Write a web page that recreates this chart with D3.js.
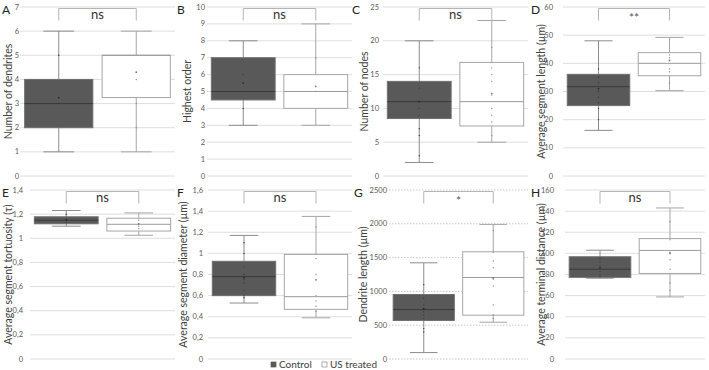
<!DOCTYPE html>
<html>
<head>
<meta charset="utf-8">
<script src="https://cdn.jsdelivr.net/npm/d3@7"></script>
<style>
  body { margin:0; background:#fff; }
  svg text { font-family: Lato, "Open Sans", sans-serif; }
</style>
</head>
<body>
<div id="chart"></div>
<script>
const panelIds = ["A","B","C","D","E","F","G","H"];
const yTitles  = ["Number of dendrites","Highest order","Number of nodes","Average segment length (µm)",
                  "Average segment tortuosity (τ)","Average segment diameter (µm)","Dendrite length (µm)","Average terminal distance (µm)"];
const yMax   = [7,10,25,60,1.4,1.6,2500,160];
const yStep  = [1,1,5,10,0.2,0.2,500,20];
const sigLabels = ["ns","ns","ns","**","ns","ns","*","ns"];
const groups = ["Control","US treated"];

// [min, q1, median, q3, max, mean]
const controlStats = [
  [1,2,3,4,6,3.25],
  [3,4.5,5,7,8,5.5],
  [2,8.5,11,14,20,11],
  [16.2,25,31.7,36.1,48,31],
  [1.10,1.12,1.15,1.178,1.23,1.15],
  [0.53,0.60,0.78,0.925,1.17,0.77],
  [95,570,732,954,1423,740],
  [76.5,77.3,85,96.8,103,86]
];
const treatedStats = [
  [1,3.25,5,5,6,4.3],
  [3,4,5,6,9,5.3],
  [5,7.4,11,16.8,23,12.2],
  [30.3,35.6,40,43.8,49.2,41],
  [1.025,1.06,1.116,1.166,1.21,1.12],
  [0.39,0.47,0.59,0.99,1.35,0.75],
  [544,648,1206,1586,1991,1200],
  [58.8,81,102.8,114,143,100]
];
const controlPoints = [
  [3,5],[4,6],[3,6,7,9,10,13,16],[20,24,26,28,30,33,35,38],
  [1.13,1.16,1.2],[0.58,0.6,0.65,0.72,0.75,0.8,0.87,1.0,1.1],
  [400,450,600,650,700,750,800,900,1100],[78,80,83,88,92,95]
];
const treatedPoints = [
  [2,3,4],[5,7],[6,8,9,10,12,14,15,16,19],[33,37,38,42,43],
  [1.08,1.1,1.15],[0.45,0.5,0.55,0.6,0.8,0.95,1.25],
  [600,650,800,1080,1180,1350,1450,1580,1900],[65,72,85,94,101,113,130]
];

// layout of each panel: plot left/right, tick label x, title x, letter x
const layout = [
  {l:20,  r:175, lx:19,  tx:8,   px:2,   row:0},
  {l:207, r:352, lx:205, tx:187, px:177, row:0},
  {l:383, r:528, lx:379, tx:364, px:352, row:0},
  {l:563, r:705, lx:553, tx:541, px:531, row:0},
  {l:30,  r:175, lx:23,  tx:8,   px:2,   row:1},
  {l:208, r:352, lx:203, tx:183, px:177, row:1},
  {l:389, r:528, lx:387, tx:363, px:354, row:1},
  {l:565, r:705, lx:554, tx:541, px:531, row:1}
];
const rows = [{top:7, bottom:176}, {top:190, bottom:359}];

const svg = d3.select("#chart").append("svg").attr("width",709).attr("height",370);

const fmt = v => d3.format(".1~f")(v).replace(".", ",");

panelIds.forEach((id,i) => {
  const L = layout[i], R = rows[L.row];
  const g = svg.append("g");
  const y = d3.scaleLinear().domain([0,yMax[i]]).range([R.bottom,R.top]);
  const x = d3.scaleBand().domain(groups).range([L.l,L.r]).paddingInner(0.12).paddingOuter(0.06);
  const ticks = d3.range(0, yMax[i] + yStep[i]/2, yStep[i]);

  // gridlines
  g.selectAll(".grid").data(ticks).enter().append("line")
    .attr("x1",L.l).attr("x2",L.r).attr("y1",d=>y(d)).attr("y2",d=>y(d))
    .attr("stroke", i===6 ? "#c8c8c8" : "#dedede").attr("stroke-width",1)
    .attr("stroke-dasharray", i===6 ? "1.5,1.5" : null);
  g.selectAll(".tick").data(ticks).enter().append("text")
    .attr("x",L.lx).attr("y",d=>y(d)+2.5).attr("text-anchor","end")
    .attr("fill","#595959").style("font-size","7.5px").text(fmt);

  // y title
  g.append("text").attr("transform",`translate(${L.tx+4},${(R.top+R.bottom)/2}) rotate(-90)`)
    .attr("text-anchor","middle").attr("fill","#404040").style("font-size","10.5px").text(yTitles[i]);

  // panel letter
  g.append("text").attr("x",L.px).attr("y",R.top+7).attr("fill","#222").style("font-size","12px").text(id);

  const stats = [controlStats[i], treatedStats[i]];
  const pts = [controlPoints[i], treatedPoints[i]];
  stats.forEach((s,k) => {
    const cx = x(groups[k]) + x.bandwidth()/2;
    const capW = x.bandwidth()*0.45;
    const wc = k===0 ? "#8c8c8c" : "#a6a6a6";
    // whiskers
    g.append("line").attr("x1",cx).attr("x2",cx).attr("y1",y(s[0])).attr("y2",y(s[4])).attr("stroke",wc);
    [s[0],s[4]].forEach(v => g.append("line").attr("x1",cx-capW/2).attr("x2",cx+capW/2)
      .attr("y1",y(v)).attr("y2",y(v)).attr("stroke",wc));
    // box
    g.append("rect").attr("x",x(groups[k])).attr("width",x.bandwidth())
      .attr("y",y(s[3])).attr("height",y(s[1])-y(s[3]))
      .attr("fill",k===0?"#595959":"#fff").attr("stroke",k===0?"#6f6f6f":"#a6a6a6");
    g.append("line").attr("x1",x(groups[k])).attr("x2",x(groups[k])+x.bandwidth())
      .attr("y1",y(s[2])).attr("y2",y(s[2])).attr("stroke",k===0?"#3a3a3a":"#9a9a9a");
    // points + mean
    g.selectAll(null).data(pts[k]).enter().append("circle")
      .attr("cx",cx).attr("cy",d=>y(d)).attr("r",0.7).attr("fill",k===0?"#3a3a3a":"#8c8c8c");
    g.append("circle").attr("cx",cx).attr("cy",y(s[5])).attr("r",0.9).attr("fill",k===0?"#2a2a2a":"#777");
  });

  // significance bracket
  const c0 = x(groups[0]) + x.bandwidth()/2, c1 = x(groups[1]) + x.bandwidth()/2;
  const by = y(yMax[i]) + 1.5;
  g.append("path").attr("d",`M${c0},${by+12}V${by}H${c1}V${by+12}`)
    .attr("fill","none").attr("stroke","#b5b5b5");
  const star = sigLabels[i] !== "ns";
  g.append("text").attr("x",(c0+c1)/2).attr("y",by + (star ? 13 : 10))
    .attr("text-anchor","middle").attr("fill", star ? "#555" : "#333")
    .style("font-size", star ? "12px" : "13px").text(sigLabels[i]);
});

// legend
const legend = svg.append("g");
groups.forEach((name,k) => {
  const lx = k===0 ? 271 : 322;
  legend.append("rect").attr("x",lx).attr("y",362).attr("width",5).attr("height",5)
    .attr("fill",k===0?"#595959":"#fff").attr("stroke",k===0?"#595959":"#8c8c8c").attr("stroke-width",0.7);
  legend.append("text").attr("x",lx+8).attr("y",368).attr("fill","#404040")
    .style("font-size","10px").text(name);
});
</script>
</body>
</html>
